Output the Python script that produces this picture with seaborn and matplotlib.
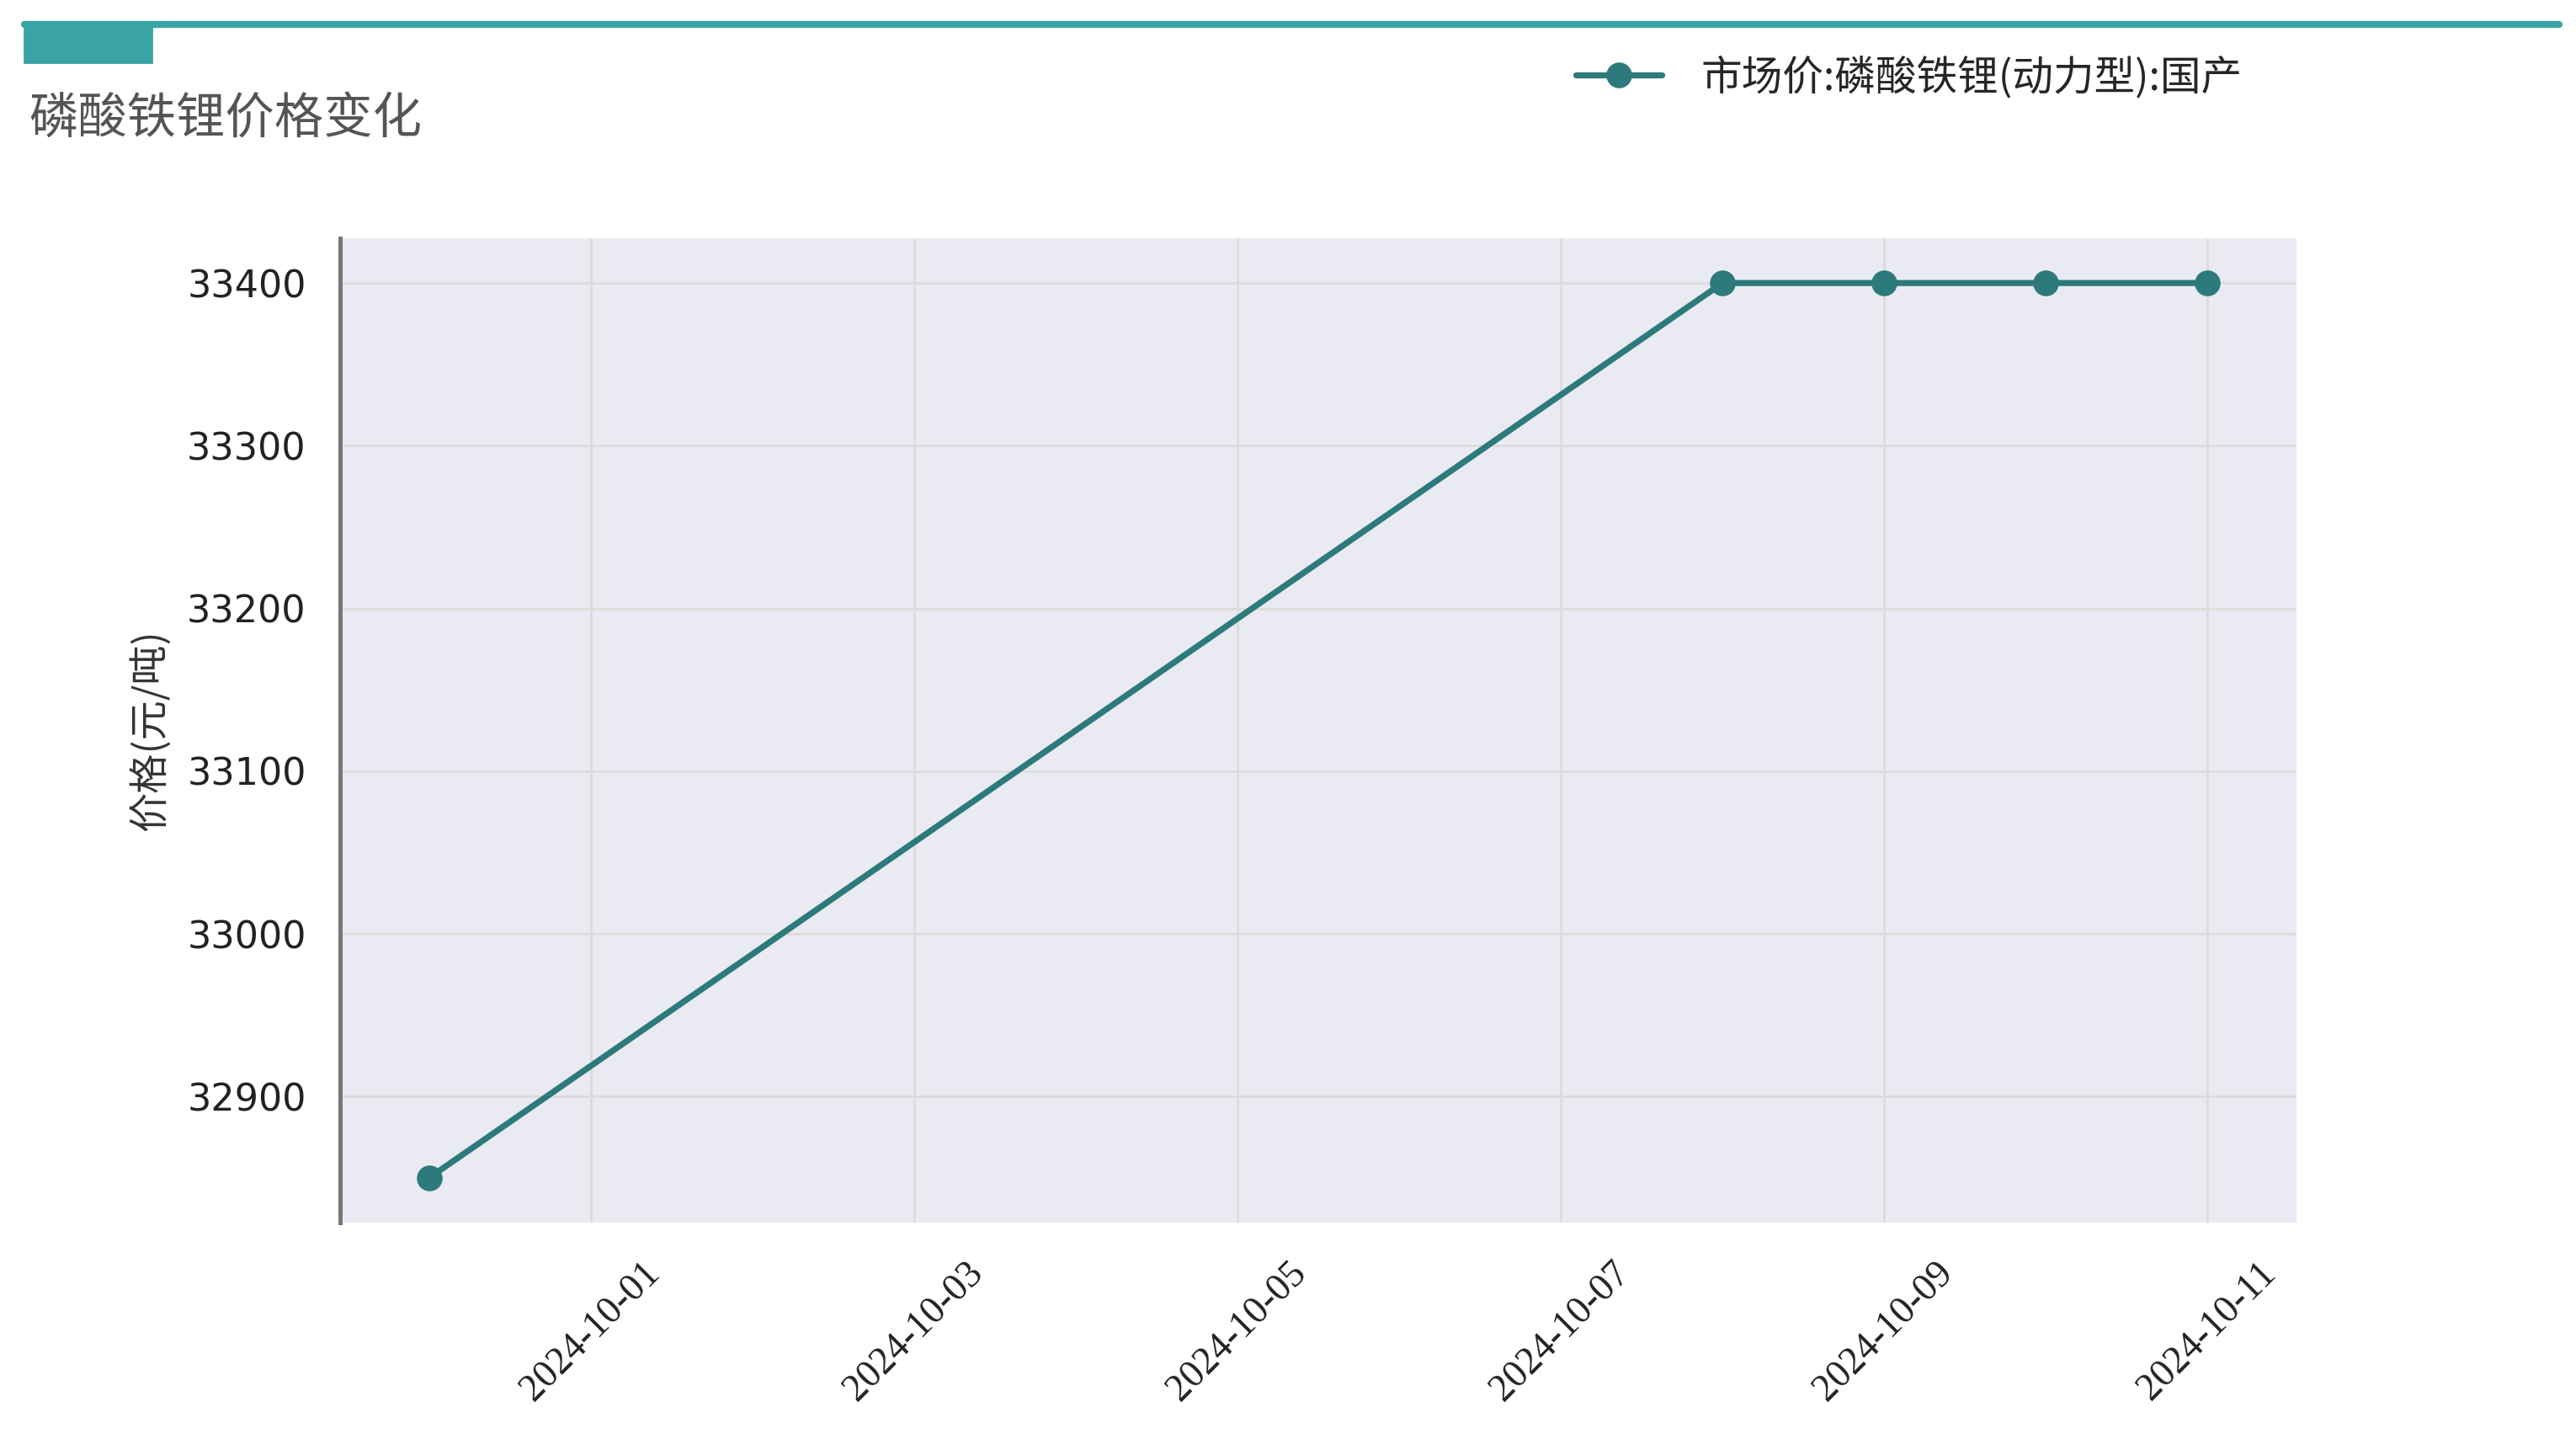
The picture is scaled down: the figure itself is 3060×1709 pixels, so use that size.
import pandas as pd
import seaborn as sns
import matplotlib.pyplot as plt
import matplotlib.dates as mdates
from matplotlib.patches import Rectangle
from matplotlib.lines import Line2D

# data
dates = ["2024-09-30", "2024-10-08", "2024-10-09", "2024-10-10", "2024-10-11"]
prices = [32850, 33400, 33400, 33400, 33400]
series_name = "市场价:磷酸铁锂(动力型):国产"
title = "磷酸铁锂价格变化"
y_label = "价格(元/吨)"

df = pd.DataFrame({"date": pd.to_datetime(dates), "price": prices})

sns.set_theme(style="darkgrid", rc={"axes.facecolor": "#EAEAF2", "grid.color": "#DCDCDC"})
plt.rcParams['font.family'] = ['DejaVu Sans', 'Noto Sans CJK SC']

line_color = "#2C7A7B"
accent = "#3AA3A3"
cjk = ['Noto Sans CJK SC', 'DejaVu Sans']

fig = plt.figure(figsize=(15.3, 8.545), dpi=200)
ax = fig.add_axes([404 / 3060, 1 - 1452 / 1709, (2728 - 404) / 3060, (1452 - 283) / 1709])

sns.lineplot(x="date", y="price", data=df, ax=ax, color=line_color,
             linewidth=2.6, marker="o", markersize=11, markeredgewidth=0)

ax.xaxis.set_major_locator(mdates.DayLocator(bymonthday=[1, 3, 5, 7, 9, 11]))
ax.xaxis.set_major_formatter(mdates.DateFormatter("%Y-%m-%d"))
for lbl in ax.get_xticklabels():
    lbl.set_rotation(45)
    lbl.set_family(['Liberation Serif'])
    lbl.set_fontsize(16.5)
    lbl.set_color("#222222")
ax.tick_params(axis="y", labelsize=16, labelcolor="#222222", pad=8.5)
ax.tick_params(axis="x", pad=8)

ax.set_xlabel("")
ax.set_ylabel(y_label, family=cjk, fontsize=17, color="#333333", labelpad=7)

for side in ["top", "right", "bottom"]:
    ax.spines[side].set_visible(False)
ax.spines["left"].set_visible(True)
ax.spines["left"].set_color("#777777")
ax.spines["left"].set_linewidth(1.8)

# header decoration
fig.add_artist(Line2D([29 / 3060, 3040 / 3060], [1 - 29 / 1709, 1 - 29 / 1709],
                      color=accent, linewidth=3, solid_capstyle="round"))
fig.add_artist(Rectangle((29 / 3060, 1 - 74 / 1709), 151 / 3060, 45 / 1709,
                         color=accent, transform=fig.transFigure))
fig.text(34 / 3060, 1 - 142 / 1709, title, family=cjk, fontsize=21,
         color="#555555", va="center", ha="left")

handle = Line2D([], [], color=line_color, linewidth=2.6, marker="o",
                markersize=11, markeredgewidth=0)
fig.legend([handle], [series_name], loc="center left",
           bbox_to_anchor=(1828 / 3060, 1 - 92 / 1709), frameon=False,
           prop={"family": cjk, "size": 17.5}, handlelength=2.1, handletextpad=0.95)

fig.savefig("out.png", dpi=200, facecolor="white")
